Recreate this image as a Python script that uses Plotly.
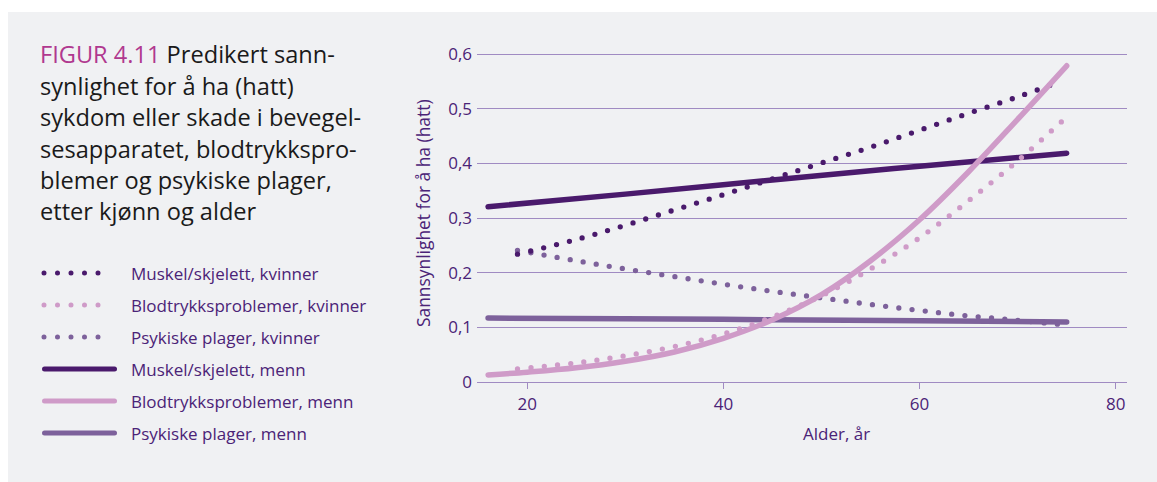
import plotly.graph_objects as go

# Predicted probability by age, read per series
age_musk_m = [16, 30, 45, 60, 75]
musk_m = [0.321, 0.344, 0.370, 0.395, 0.419]

age_blod_m = [16, 20, 25, 30, 35, 40, 45, 50, 55, 60, 65, 70, 75]
blod_m = [0.013, 0.018, 0.026, 0.038, 0.055, 0.080, 0.114, 0.160, 0.222, 0.297, 0.385, 0.481, 0.579]

age_psyk_m = [16, 30, 45, 60, 75]
psyk_m = [0.117, 0.116, 0.114, 0.112, 0.110]

age_k = [19, 25, 30, 35, 40, 45, 50, 55, 60, 65, 70, 74.5]
musk_k = [0.234, 0.261, 0.287, 0.315, 0.343, 0.372, 0.401, 0.430, 0.461, 0.492, 0.522, 0.551]
blod_k = [0.024, 0.035, 0.048, 0.065, 0.088, 0.119, 0.158, 0.207, 0.264, 0.332, 0.405, 0.477]
psyk_k = [0.241, 0.222, 0.207, 0.193, 0.179, 0.166, 0.154, 0.142, 0.131, 0.121, 0.113, 0.105]

x_ticks = [20, 40, 60, 80]
y_ticks = [0, 0.1, 0.2, 0.3, 0.4, 0.5, 0.6]

title_lines = [
    "<span style='color:#b0388f'>FIGUR 4.11</span> Predikert sann-",
    "synlighet for å ha (hatt)",
    "sykdom eller skade i bevegel-",
    "sesapparatet, blodtrykkspro-",
    "blemer og psykiske plager,",
    "etter kjønn og alder",
]

DARK = "#4a1a6c"
PINK = "#cf9bc8"
MID = "#7d619b"
TEXT = "#4b2377"
GRID = "#a08bc2"
FONT = "Open Sans"

W, H = 1157, 482
ML, MR, MT, MB = 477, 30, 53, 100
PW, PH = W - ML - MR, H - MT - MB


def px(xp):
    return (xp - ML) / PW


def py(yp):
    return (H - MB - yp) / PH


DOT = "0px,13.3px"

series = [
    ("Muskel/skjelett, kvinner", age_k, musk_k, DARK, "dot"),
    ("Blodtrykksproblemer, kvinner", age_k, blod_k, PINK, "dot"),
    ("Psykiske plager, kvinner", age_k, psyk_k, MID, "dot"),
    ("Muskel/skjelett, menn", age_musk_m, musk_m, DARK, "solid"),
    ("Blodtrykksproblemer, menn", age_blod_m, blod_m, PINK, "solid"),
    ("Psykiske plager, menn", age_psyk_m, psyk_m, MID, "solid"),
]

fig = go.Figure()
draw_order = [2, 5, 0, 3, 1, 4]
for i in draw_order:
    name, xs, ys, col, style = series[i]
    fig.add_trace(go.Scatter(
        x=xs, y=ys, mode="lines", name=name, showlegend=False,
        line=dict(color=col, width=5.5 if style == "solid" else 5.3,
                  dash=DOT if style == "dot" else "solid", shape="spline", smoothing=1),
        hoverinfo="skip",
    ))

shapes = [
    # grey panel
    dict(type="rect", xref="paper", yref="paper", x0=px(8), x1=px(W + 5), y0=py(12), y1=py(H + 5),
         fillcolor="#f0f1f3", line=dict(width=0), layer="below"),
]
annotations = []

# legend block
row_y = [273, 305, 337, 369, 401, 433]
for (name, xs, ys, col, style), ry in zip(series, row_y):
    if style == "dot":
        x0, x1 = 44, 111.5
    else:
        x0, x1 = 44.5, 114.5
    shapes.append(dict(type="line", xref="paper", yref="paper", x0=px(x0), x1=px(x1),
                       y0=py(ry), y1=py(ry),
                       line=dict(color=col, width=5, dash="0px,13.5px" if style == "dot" else "solid")))
    annotations.append(dict(xref="paper", yref="paper", x=px(129), y=py(ry), text=name,
                            showarrow=False, xanchor="left", yanchor="middle",
                            font=dict(family=FONT, size=17, color=TEXT)))

# figure caption
cap_y = [54, 86, 117, 149, 180, 211]
for line, cy in zip(title_lines, cap_y):
    annotations.append(dict(xref="paper", yref="paper", x=px(38), y=py(cy), text=line,
                            showarrow=False, xanchor="left", yanchor="middle",
                            font=dict(family=FONT, size=23.6, color="#1a1a1a")))

# axis titles
annotations.append(dict(xref="paper", yref="paper", x=px(423), y=py(213),
                        text="Sannsynlighet for å ha (hatt)", textangle=-90, showarrow=False,
                        xanchor="center", yanchor="middle",
                        font=dict(family=FONT, size=17.4, color=TEXT)))
annotations.append(dict(xref="paper", yref="paper", x=px(836), y=py(433),
                        text="Alder, år", showarrow=False, xanchor="center", yanchor="middle",
                        font=dict(family=FONT, size=17, color=TEXT)))

fig.update_layout(
    width=W, height=H,
    margin=dict(l=ML, r=MR, t=MT, b=MB, pad=0),
    paper_bgcolor="white", plot_bgcolor="rgba(0,0,0,0)",
    separators=", ",
    showlegend=False,
    shapes=shapes, annotations=annotations,
    font=dict(family=FONT, color=TEXT),
    xaxis=dict(range=[14.87, 81.15], tickvals=x_ticks, showgrid=False, zeroline=False,
               showline=True, linecolor=GRID, linewidth=1,
               ticks="outside", ticklen=6, tickcolor=GRID, tickwidth=1,
               tickfont=dict(family=FONT, size=17, color=TEXT), ticklabelstandoff=1),
    yaxis=dict(range=[0, 0.6024], tickvals=y_ticks, showgrid=True, gridcolor=GRID, gridwidth=1,
               zeroline=False, showline=False, ticks="",
               tickfont=dict(family=FONT, size=17, color=TEXT), ticklabelstandoff=4),
)

round_caps = """
var gd = document.getElementById('{plot_id}');
function roundCaps(){
  gd.querySelectorAll('path.js-line, .shapelayer path').forEach(function(p){
    p.style.strokeLinecap = 'round';
  });
}
roundCaps();
gd.on('plotly_afterplot', roundCaps);
"""

fig.write_html("out.html", post_script=round_caps)
